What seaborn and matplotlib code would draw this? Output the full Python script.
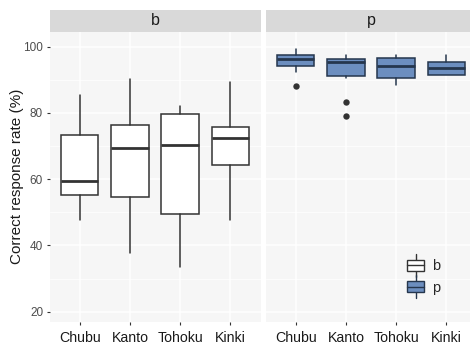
import matplotlib
matplotlib.use("Agg")
import matplotlib.pyplot as plt
from matplotlib.patches import Rectangle, Patch
from matplotlib.lines import Line2D
from matplotlib.legend_handler import HandlerBase
from matplotlib.ticker import MultipleLocator
import seaborn as sns

regions = ["Chubu", "Kanto", "Tohoku", "Kinki"]
groups = ["b", "p"]

# Five-number summaries per region (lower whisker, Q1, median, Q3, upper whisker)
b_low = [47.8, 37.8, 33.4, 47.6]
b_q1 = [55.3, 54.6, 49.6, 64.2]
b_med = [59.4, 69.4, 70.2, 72.3]
b_q3 = [73.2, 76.2, 79.6, 75.8]
b_high = [85.3, 90.2, 82.0, 89.2]
b_outliers = [[], [], [], []]

p_low = [92.4, 90.5, 88.5, 91.4]
p_q1 = [94.2, 91.1, 90.5, 91.4]
p_med = [96.2, 95.4, 94.3, 93.4]
p_q3 = [97.4, 96.2, 96.7, 95.3]
p_high = [99.2, 97.5, 97.4, 97.5]
p_outliers = [[88.2], [83.3, 79.1], [], []]

y_ticks = [20, 40, 60, 80, 100]
y_label = "Correct response rate (%)"

fills = {"b": "#FFFFFF", "p": "#6C8EBF"}
edges = {"b": "#333333", "p": "#25364D"}

sns.set_theme(style="darkgrid", rc={
    "axes.facecolor": "#F6F6F6",
    "grid.color": "#FFFFFF",
    "figure.facecolor": "#FFFFFF",
})
plt.rcParams["font.family"] = ["Liberation Sans", "DejaVu Sans"]


def summaries(low, q1, med, q3, high, outliers):
    return [
        {"whislo": lo, "q1": a, "med": m, "q3": c, "whishi": hi, "fliers": fl}
        for lo, a, m, c, hi, fl in zip(low, q1, med, q3, high, outliers)
    ]


stats = {
    "b": summaries(b_low, b_q1, b_med, b_q3, b_high, b_outliers),
    "p": summaries(p_low, p_q1, p_med, p_q3, p_high, p_outliers),
}

W, H = 470, 348
fig = plt.figure(figsize=(W / 100, H / 100), dpi=100)
panel_w, panel_h = 211, 290
bottom = H - 321.7
strip_h = 22.2
axes = [
    fig.add_axes([49.5 / W, bottom / H, panel_w / W, panel_h / H]),
    fig.add_axes([265.5 / W, bottom / H, panel_w / W, panel_h / H]),
]

positions = list(range(len(regions)))
for ax, g in zip(axes, groups):
    ax.set_axisbelow(True)
    ax.bxp(
        stats[g], positions=positions, widths=0.75, patch_artist=True,
        showcaps=False, manage_ticks=False,
        boxprops=dict(facecolor=fills[g], edgecolor=edges[g], linewidth=1.1),
        medianprops=dict(color=edges[g], linewidth=2.0, solid_capstyle="butt"),
        whiskerprops=dict(color=edges[g], linewidth=1.1),
        flierprops=dict(marker="o", markerfacecolor="#333333",
                        markeredgecolor="none", markersize=4.6),
    )
    ax.set_xlim(-0.6, len(regions) - 0.4)
    ax.set_ylim(17.0, 104.5)
    ax.set_xticks(positions)
    ax.set_xticklabels(regions)
    ax.set_yticks(y_ticks)
    ax.yaxis.set_minor_locator(MultipleLocator(10))
    ax.grid(which="major", color="white", linewidth=1.1)
    ax.grid(which="minor", axis="y", color="white", linewidth=0.55)
    for s in ax.spines.values():
        s.set_visible(False)
    ax.tick_params(axis="x", which="major", bottom=True, length=2.4, width=0.8,
                   color="#333333", pad=4.0, labelsize=10.2, labelcolor="#1A1A1A")
    ax.tick_params(axis="y", which="major", left=True, length=2.2, width=0.8,
                   color="#333333", pad=2.4, labelsize=8.5, labelcolor="#4D4D4D")
    ax.tick_params(which="minor", left=False, bottom=False)
    ax.set_xlabel("")
    ax.set_ylabel("")
    # facet strip
    ax.add_patch(Rectangle((0, 1), 1, strip_h / panel_h, transform=ax.transAxes,
                           facecolor="#D9D9D9", edgecolor="none", clip_on=False))
    ax.text(0.5, 1 + strip_h / 2 / panel_h, g, transform=ax.transAxes,
            ha="center", va="center", fontsize=11.5, color="#1A1A1A")

axes[1].tick_params(axis="y", left=False, labelleft=False)

axes[0].set_ylabel(y_label, fontsize=11, color="#1A1A1A")
axes[0].yaxis.label.set_verticalalignment("center")
axes[0].yaxis.set_label_coords(-0.154, 0.5)


class BoxKey(HandlerBase):
    def create_artists(self, legend, orig_handle, xdescent, ydescent,
                       width, height, fontsize, trans):
        fc = orig_handle.get_facecolor()
        ec = orig_handle.get_edgecolor()
        x0, y0 = -xdescent, -ydescent
        cx = x0 + width / 2
        whisker = Line2D([cx, cx], [y0 - 0.55 * height, y0 + 1.55 * height],
                         color=ec, linewidth=1.0)
        box = Rectangle((x0, y0), width, height, facecolor=fc, edgecolor=ec,
                        linewidth=1.0)
        mid = Line2D([x0, x0 + width], [y0 + height / 2] * 2, color=ec,
                     linewidth=1.0)
        arts = [whisker, box, mid]
        for a in arts:
            a.set_transform(trans)
        return arts


handles = [Patch(facecolor=fills[g], edgecolor=edges[g]) for g in groups]
axes[1].legend(
    handles, groups, handler_map={Patch: BoxKey()},
    loc="center left", bbox_to_anchor=(0.669, 0.154), frameon=False,
    fontsize=10.5, handlelength=1.22, handleheight=0.75, handletextpad=0.55,
    labelspacing=0.5, borderpad=0, borderaxespad=0,
)

fig.savefig("out.png", dpi=100)
